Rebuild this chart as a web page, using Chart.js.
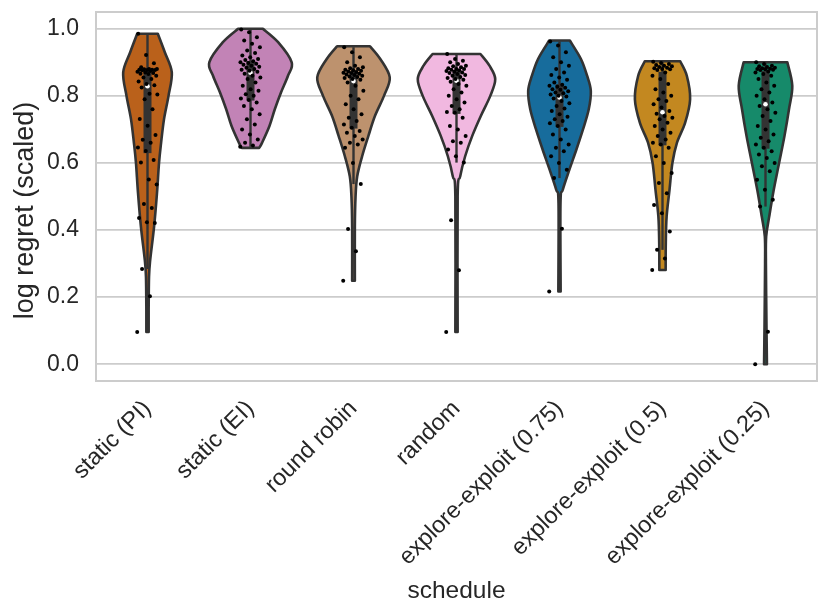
<!DOCTYPE html>
<html>
<head>
<meta charset="utf-8">
<script src="https://cdn.jsdelivr.net/npm/chart.js@4.4.1/dist/chart.umd.min.js"></script>
<style>
  html, body { margin: 0; padding: 0; background: #ffffff; }
  canvas { display: block; }
</style>
</head>
<body>
<canvas id="violins" width="831" height="616"></canvas>
<script>
// categories
const schedules = ['static (PI)', 'static (EI)', 'round robin', 'random',
    'explore-exploit (0.75)', 'explore-exploit (0.5)', 'explore-exploit (0.25)'];
const yTicks = [0.0, 0.2, 0.4, 0.6, 0.8, 1.0];

// scaled log regret per run
const regretPI = [0.096, 0.203, 0.284, 0.421, 0.423, 0.436, 0.466, 0.478, 0.536, 0.551, 0.601, 0.609,
    0.636, 0.646, 0.660, 0.669, 0.683, 0.711, 0.731, 0.760, 0.790, 0.804, 0.806, 0.825,
    0.832, 0.835, 0.843, 0.850, 0.855, 0.860, 0.865, 0.866, 0.868, 0.870, 0.872, 0.874,
    0.876, 0.877, 0.877, 0.878, 0.878, 0.879, 0.880, 0.880, 0.885, 0.897, 0.922, 0.985];
const regretEI = [0.648, 0.652, 0.660, 0.670, 0.685, 0.700, 0.715, 0.730, 0.745, 0.760, 0.770, 0.780,
    0.788, 0.792, 0.800, 0.805, 0.815, 0.820, 0.830, 0.840, 0.850, 0.855, 0.860, 0.866,
    0.872, 0.875, 0.878, 0.880, 0.884, 0.887, 0.890, 0.893, 0.896, 0.898, 0.900, 0.903,
    0.907, 0.910, 0.915, 0.920, 0.928, 0.935, 0.945, 0.955, 0.965, 0.975, 0.990, 0.998];
const regretRR = [0.249, 0.337, 0.403, 0.537, 0.600, 0.645, 0.655, 0.660, 0.670, 0.680, 0.690, 0.695,
    0.705, 0.715, 0.725, 0.735, 0.745, 0.760, 0.775, 0.790, 0.800, 0.815, 0.830, 0.840,
    0.848, 0.850, 0.853, 0.856, 0.858, 0.860, 0.862, 0.864, 0.866, 0.868, 0.869, 0.871,
    0.873, 0.875, 0.876, 0.878, 0.880, 0.882, 0.885, 0.890, 0.900, 0.915, 0.930, 0.945];
const regretRandom = [0.096, 0.280, 0.429, 0.601, 0.620, 0.640, 0.660, 0.665, 0.680, 0.700, 0.710, 0.735,
    0.750, 0.752, 0.760, 0.770, 0.780, 0.790, 0.800, 0.810, 0.820, 0.830, 0.835, 0.842,
    0.848, 0.850, 0.853, 0.856, 0.860, 0.862, 0.865, 0.868, 0.870, 0.872, 0.874, 0.876,
    0.878, 0.880, 0.880, 0.882, 0.885, 0.888, 0.890, 0.895, 0.900, 0.905, 0.910, 0.925];
const regretEE75 = [0.217, 0.404, 0.555, 0.580, 0.600, 0.620, 0.635, 0.645, 0.655, 0.670, 0.685, 0.700,
    0.710, 0.718, 0.725, 0.730, 0.738, 0.745, 0.755, 0.762, 0.770, 0.778, 0.785, 0.792,
    0.798, 0.800, 0.804, 0.808, 0.810, 0.814, 0.818, 0.820, 0.824, 0.827, 0.830, 0.833,
    0.840, 0.848, 0.855, 0.862, 0.870, 0.880, 0.890, 0.900, 0.915, 0.930, 0.950, 0.962];
const regretEE50 = [0.281, 0.315, 0.341, 0.396, 0.450, 0.475, 0.510, 0.540, 0.570, 0.600, 0.620, 0.645,
    0.655, 0.660, 0.670, 0.680, 0.690, 0.700, 0.710, 0.720, 0.730, 0.735, 0.740, 0.747,
    0.755, 0.765, 0.775, 0.785, 0.790, 0.800, 0.810, 0.820, 0.835, 0.850, 0.860, 0.870,
    0.877, 0.879, 0.880, 0.882, 0.884, 0.886, 0.888, 0.890, 0.892, 0.895, 0.898, 0.902];
const regretEE25 = [0.000, 0.097, 0.470, 0.490, 0.520, 0.550, 0.575, 0.590, 0.600, 0.615, 0.625, 0.635,
    0.645, 0.655, 0.665, 0.675, 0.685, 0.700, 0.710, 0.725, 0.740, 0.750, 0.760, 0.770,
    0.780, 0.790, 0.800, 0.810, 0.820, 0.830, 0.840, 0.850, 0.860, 0.865, 0.870, 0.873,
    0.877, 0.878, 0.879, 0.880, 0.881, 0.882, 0.884, 0.886, 0.888, 0.890, 0.895, 0.900];

// violin density profiles [regret, density], top to bottom (1 = widest violin)
const densityPI = [[0.985, 0.25], [0.93, 0.42], [0.87, 0.59], [0.80, 0.51], [0.73, 0.40], [0.66, 0.33],
    [0.60, 0.28], [0.51, 0.23], [0.41, 0.16], [0.31, 0.065], [0.26, 0.037], [0.16, 0.028], [0.096, 0.028]];
const densityEI = [[1.0, 0.30], [0.96, 0.67], [0.90, 1.0], [0.86, 0.91], [0.81, 0.74], [0.76, 0.59],
    [0.71, 0.46], [0.66, 0.28], [0.645, 0.21]];
const densityRR = [[0.948, 0.40], [0.91, 0.65], [0.855, 0.88], [0.80, 0.74], [0.74, 0.52], [0.68, 0.36],
    [0.62, 0.21], [0.56, 0.09], [0.50, 0.05], [0.41, 0.033], [0.249, 0.033]];
const densityRandom = [[0.925, 0.58], [0.89, 0.80], [0.85, 0.94], [0.80, 0.82], [0.74, 0.59], [0.68, 0.38],
    [0.62, 0.21], [0.56, 0.09], [0.50, 0.028], [0.096, 0.028]];
const densityEE75 = [[0.965, 0.25], [0.91, 0.52], [0.86, 0.67], [0.815, 0.76], [0.76, 0.71], [0.70, 0.57],
    [0.64, 0.41], [0.58, 0.24], [0.52, 0.08], [0.48, 0.024], [0.217, 0.028]];
const densityEE50 = [[0.903, 0.43], [0.86, 0.59], [0.79, 0.67], [0.72, 0.55], [0.66, 0.35], [0.60, 0.24],
    [0.52, 0.17], [0.44, 0.10], [0.36, 0.08], [0.281, 0.077]];
const densityEE25 = [[0.90, 0.53], [0.83, 0.65], [0.76, 0.57], [0.68, 0.46], [0.60, 0.33], [0.52, 0.20],
    [0.44, 0.09], [0.38, 0.016], [0.30, 0.01], [0.21, 0.016], [0.11, 0.024], [0.0, 0.035]];

const regretSeries = [regretPI, regretEI, regretRR, regretRandom, regretEE75, regretEE50, regretEE25];
const densitySeries = [densityPI, densityEI, densityRR, densityRandom, densityEE75, densityEE50, densityEE25];

// seaborn colorblind palette, desaturated
const violinColors = ['#ba611b', '#c283b6', '#bd926e', '#f1b8e0', '#176c9c', '#c38820', '#168a6a'];
const edgeColor = '#333333';
const textColor = '#262626';
const fontFamily = '"Liberation Sans", Arial, Helvetica, sans-serif';

function quantile(sorted, q) {
    const pos = (sorted.length - 1) * q;
    const lo = Math.floor(pos), hi = Math.ceil(pos);
    return sorted[lo] + (sorted[hi] - sorted[lo]) * (pos - lo);
}

// spread of the strip points inside a category (deterministic)
function jitter(k) {
    return ((k * 0.6180339887) % 1) * 0.2 - 0.1;
}

// catmull-rom through pixel points, path already at pts[0]
function splineThrough(ctx, pts) {
    for (let i = 0; i < pts.length - 1; i++) {
        const p0 = pts[Math.max(i - 1, 0)], p1 = pts[i], p2 = pts[i + 1], p3 = pts[Math.min(i + 2, pts.length - 1)];
        ctx.bezierCurveTo(p1.x + (p2.x - p0.x) / 6, p1.y + (p2.y - p0.y) / 6,
            p2.x - (p3.x - p1.x) / 6, p2.y - (p3.y - p1.y) / 6, p2.x, p2.y);
    }
}

const violinPlugin = {
    id: 'violins',
    beforeDatasetsDraw(chart) {
        const {ctx, chartArea, scales: {x, y}} = chart;
        ctx.save();
        // axes frame
        ctx.strokeStyle = '#cccccc';
        ctx.lineWidth = 2;
        ctx.strokeRect(chartArea.left, chartArea.top, chartArea.right - chartArea.left, chartArea.bottom - chartArea.top);

        densitySeries.forEach((profile, i) => {
            const left = profile.map(([v, d]) => ({x: x.getPixelForValue(i - d * 0.4), y: y.getPixelForValue(v)}));
            const right = profile.map(([v, d]) => ({x: x.getPixelForValue(i + d * 0.4), y: y.getPixelForValue(v)})).reverse();
            ctx.beginPath();
            ctx.moveTo(left[0].x, left[0].y);
            splineThrough(ctx, left);
            ctx.lineTo(right[0].x, right[0].y);
            splineThrough(ctx, right);
            ctx.closePath();
            ctx.fillStyle = violinColors[i];
            ctx.fill();
            ctx.strokeStyle = edgeColor;
            ctx.lineWidth = 2.6;
            ctx.lineJoin = 'round';
            ctx.stroke();

            // inner box
            const vals = regretSeries[i].slice().sort((a, b) => a - b);
            const q1 = quantile(vals, 0.25), med = quantile(vals, 0.5), q3 = quantile(vals, 0.75);
            const lim = 1.5 * (q3 - q1);
            const lo = vals.find(v => v >= q1 - lim);
            const hi = vals.filter(v => v <= q3 + lim).pop();
            const cx = x.getPixelForValue(i);
            ctx.strokeStyle = edgeColor;
            ctx.lineCap = 'butt';
            ctx.lineWidth = 2.4;
            ctx.beginPath();
            ctx.moveTo(cx, y.getPixelForValue(lo));
            ctx.lineTo(cx, y.getPixelForValue(hi));
            ctx.stroke();
            ctx.lineWidth = 8;
            ctx.beginPath();
            ctx.moveTo(cx, y.getPixelForValue(q1));
            ctx.lineTo(cx, y.getPixelForValue(q3));
            ctx.stroke();
            ctx.fillStyle = '#ffffff';
            ctx.beginPath();
            ctx.arc(cx, y.getPixelForValue(med), 2.3, 0, Math.PI * 2);
            ctx.fill();
        });
        ctx.restore();
    },
    afterDraw(chart) {
        // y axis title, drawn by hand so it sits where the reference puts it
        const {ctx, chartArea} = chart;
        ctx.save();
        ctx.translate(26, (chartArea.top + chartArea.bottom) / 2 + 14);
        ctx.rotate(-Math.PI / 2);
        ctx.font = '27px ' + fontFamily;
        ctx.fillStyle = textColor;
        ctx.textAlign = 'center';
        ctx.textBaseline = 'middle';
        ctx.fillText('log regret (scaled)', 0, 0);
        ctx.restore();
    }
};

new Chart(document.getElementById('violins'), {
    type: 'scatter',
    data: {
        datasets: schedules.map((name, i) => ({
            label: name,
            data: regretSeries[i].map((v, k) => ({x: i + jitter(k), y: v})),
            backgroundColor: '#000000',
            borderWidth: 0,
            pointRadius: 2,
            pointHoverRadius: 2
        }))
    },
    options: {
        responsive: false,
        animation: false,
        layout: {padding: {top: 12, right: 14, left: 0, bottom: 0}},
        plugins: {legend: {display: false}, tooltip: {enabled: false}},
        scales: {
            x: {
                type: 'linear',
                min: -0.5,
                max: 6.5,
                afterBuildTicks: (s) => { s.ticks = schedules.map((_, i) => ({value: i})); },
                afterFit: (s) => { s.height = 235; s.paddingLeft = 0; s.paddingRight = 0; },
                ticks: {
                    callback: (v) => schedules[v],
                    minRotation: 45,
                    maxRotation: 45,
                    autoSkip: false,
                    padding: 6,
                    color: textColor,
                    font: {family: fontFamily, size: 23.5}
                },
                grid: {display: false},
                border: {display: false},
                title: {
                    display: true,
                    text: 'schedule',
                    color: textColor,
                    font: {family: fontFamily, size: 24.5},
                    padding: {top: 0, bottom: 10}
                }
            },
            y: {
                min: -0.05,
                max: 1.05,
                afterBuildTicks: (s) => { s.ticks = yTicks.map(v => ({value: v})); },
                afterFit: (s) => { s.width = 96; s.paddingTop = 0; s.paddingBottom = 0; },
                ticks: {
                    callback: (v) => v.toFixed(1),
                    padding: 17,
                    color: textColor,
                    font: {family: fontFamily, size: 23}
                },
                grid: {color: '#cccccc', lineWidth: 1.8, drawTicks: false},
                border: {display: false}
            }
        }
    },
    plugins: [violinPlugin]
});
</script>
</body>
</html>
